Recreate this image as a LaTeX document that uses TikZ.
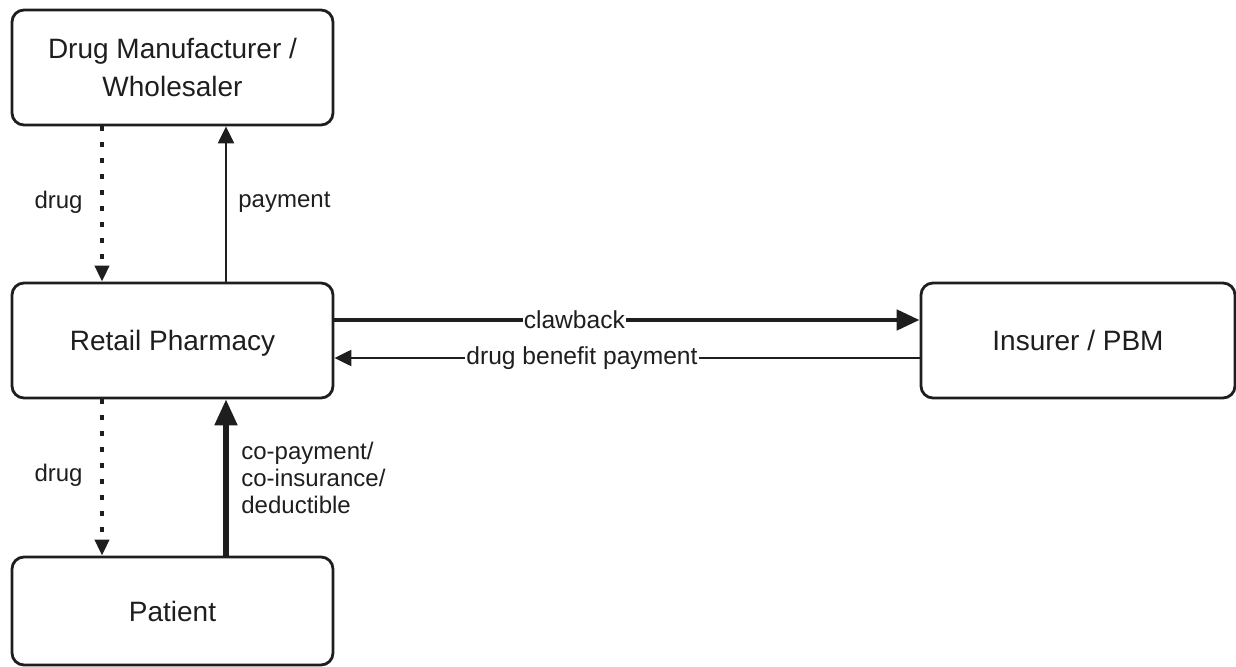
\documentclass[tikz,border=0pt]{standalone}
\usepackage{fontspec}
\setmainfont{Liberation Sans}
\usetikzlibrary{arrows.meta}
\definecolor{ink}{HTML}{1E1E1E}
\begin{document}
\begin{tikzpicture}[x=0.5pt,y=-0.5pt,
  box/.style={draw=ink, line width=1.4pt, rounded corners=6pt, inner sep=0pt,
    minimum width=160.5pt, minimum height=57.5pt, align=center,
    font=\fontsize{14}{19}\selectfont, text=ink},
  lbl/.style={font=\fontsize{12}{13.3}\selectfont, text=ink, inner sep=0pt},
  elbl/.style={font=\fontsize{12.3}{14}\selectfont, text=ink, fill=white, inner sep=0.5pt},
  dotarrow/.style={draw=ink, line width=2pt, dash pattern=on 2.5pt off 5.5pt,
    -{Triangle[length=8pt,width=7pt]}},
  thinarrow/.style={draw=ink, line width=1.1pt, -{Triangle[length=8.5pt,width=8pt]}},
  thickarrow/.style={draw=ink, line width=2.4pt, -{Triangle[length=11.5pt,width=10pt]}}
]
\useasboundingbox (0,0) rectangle (1236,667);
\node[box] (mfr) at (172.5,67.5) {Drug Manufacturer /\\Wholesaler};
\node[box, text depth=0pt] (ret) at (172.5,340.5) {Retail Pharmacy};
\node[box, minimum height=54pt] (pat) at (172.5,611) {Patient};
\node[box, minimum width=157pt] (ins) at (1078,340.5) {Insurer / PBM};

% top links
\draw[dotarrow] (mfr.south -| 102,0) -- (ret.north -| 102,0);
\draw[thinarrow] (ret.north -| 226,0) -- (mfr.south -| 226,0);
\node[lbl, anchor=east] (ldrug1) at (83,202) {drug};
\node[lbl, anchor=west] (lpay) at (238,202) {payment};

% bottom links
\draw[dotarrow] (ret.south -| 102,0) -- (pat.north -| 102,0);
\draw[draw=ink, line width=2.6pt, -{Triangle[length=13pt,width=11pt]}] (pat.north -| 226,0) -- (ret.south -| 226,0);
\node[lbl, anchor=east] (ldrug2) at (83,475) {drug};
\node[lbl, anchor=west, align=left] (lco) at (241,478) {co-payment/\\co-insurance/\\deductible};

% horizontal links
\draw[thickarrow] (ret.east |- 0,320) -- node[elbl, pos=0.41] {clawback} (ins.west |- 0,320);
\draw[thinarrow] (ins.west |- 0,358) -- node[elbl, pos=0.577] {drug benefit payment} (ret.east |- 0,358);
\end{tikzpicture}
\end{document}
